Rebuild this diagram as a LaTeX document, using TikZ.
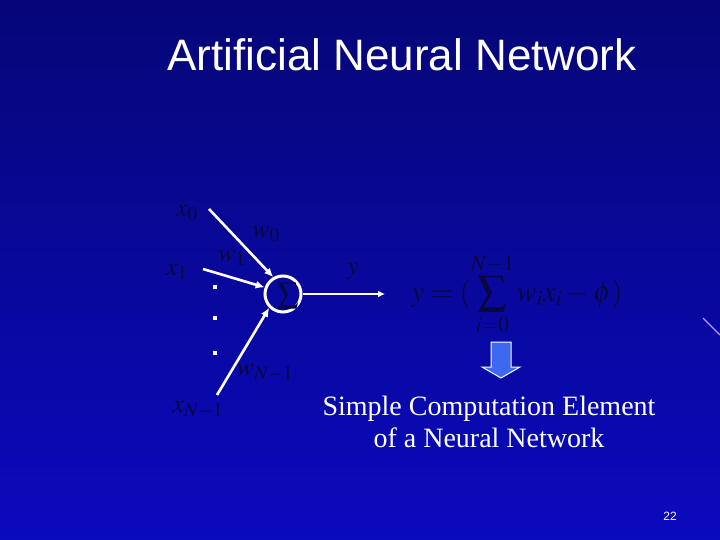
\documentclass[tikz,border=0pt]{standalone}
\usepackage{mathptmx}
\usepackage{fontspec}
\setmainfont{Liberation Serif}
\setsansfont{Liberation Sans}
\usetikzlibrary{arrows.meta}
\definecolor{bgtop}{RGB}{6,6,120}
\definecolor{bgbot}{RGB}{10,10,190}
\definecolor{lbl}{RGB}{8,8,60}
\definecolor{arrowblue}{RGB}{60,105,240}
\definecolor{streak}{RGB}{190,150,255}
\tikzset{
  wire/.style={draw=white,line width=2.6pt,-{Latex[length=9pt,width=8pt]}},
  lab/.style={text=lbl,font=\fontsize{26}{30}\selectfont,inner sep=0pt},
  dotmark/.style={fill=white,minimum size=4pt,inner sep=0pt},
}
\begin{document}
\begin{tikzpicture}[x=1pt,y=-1pt]
\shade[top color=bgtop,bottom color=bgbot] (0,0) rectangle (720,540);
\useasboundingbox (0,0) rectangle (720,540);
\draw[streak,line width=1.2pt] (703,318) -- (720,335);
% title
\node[text=white,font=\sffamily\fontsize{44}{50}\selectfont] (title) at (402,55) {Artificial Neural Network};
% neuron
\node[draw=white,line width=3pt,circle,minimum size=36pt,inner sep=0pt] (sum) at (283,294) {};
\node[text=lbl,font=\fontsize{30}{34}\selectfont,inner sep=0pt] (sig) at (288,296) {$\sum$};
% inputs
\coordinate (in0) at (209,209);
\coordinate (in1) at (203,269);
\coordinate (inN) at (217,395);
\coordinate (out) at (385,294);
\draw[wire] (in0) -- (sum.120);
\draw[wire] (in1) -- (sum.160);
\draw[wire] (inN) -- (sum.225);
\draw[wire,line width=2.8pt,-{Latex[length=7pt,width=7pt]}] (sum.east) -- (out);
% dots
\node[dotmark] (d1) at (215,287) {};
\node[dotmark] (d2) at (215,318) {};
\node[dotmark] (d3) at (215,353) {};
% labels
\node[lab] (lx0) at (187,213) {$x_0$};
\node[lab] (lw0) at (266,234) {$w_0$};
\node[lab] (lw1) at (232,258) {$w_1$};
\node[lab] (lx1) at (177,272) {$x_1$};
\node[lab] (lwN) at (265,373) {$w_{N-1}$};
\node[lab] (lxN) at (198,410) {$x_{N-1}$};
\node[lab] (ly) at (353,272) {$y$};
\node[lab,font=\fontsize{29}{34}\selectfont] (formula) at (517,294) {$\displaystyle y=(\sum_{i=0}^{N-1} w_i x_i-\phi)$};
% down arrow
\filldraw[fill=arrowblue,draw=white,line width=1pt,line join=miter]
  (491,342) -- (511,342) -- (511,367) -- (520,367) -- (501,378) -- (482,367) -- (491,367) -- cycle;
% caption
\node[text=white,font=\fontsize{28}{32}\selectfont,align=center] (cap) at (489,422) {Simple Computation Element\\of a Neural Network};
\node[text=white,font=\sffamily\fontsize{12}{14}\selectfont] (pg) at (670,516) {22};
\end{tikzpicture}
\end{document}
